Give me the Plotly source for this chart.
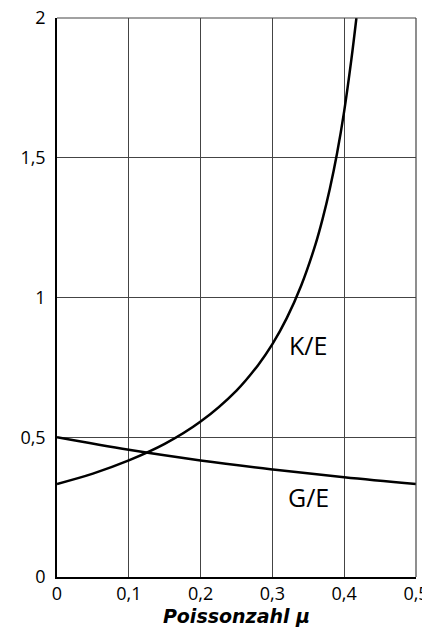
import plotly.graph_objects as go

mu_k = [0, 0.05, 0.1, 0.15, 0.2, 0.25, 0.28, 0.3, 0.32, 0.34, 0.36, 0.37, 0.38, 0.39, 0.4, 0.41, 0.417]
k_e = [0.333, 0.370, 0.417, 0.476, 0.556, 0.667, 0.758, 0.833, 0.926, 1.042, 1.190, 1.282, 1.389, 1.515, 1.667, 1.852, 2.0]
mu_g = [0, 0.1, 0.2, 0.3, 0.4, 0.5]
g_e = [0.5, 0.455, 0.417, 0.385, 0.357, 0.333]
x_ticks = [0, 0.1, 0.2, 0.3, 0.4, 0.5]
x_labels = ["0", "0,1", "0,2", "0,3", "0,4", "0,5"]
y_ticks = [0, 0.5, 1, 1.5, 2]
y_labels = ["0", "0,5", "1", "1,5", "2"]

fig = go.Figure()
fig.add_trace(go.Scatter(x=mu_k, y=k_e, mode="lines", line=dict(color="black", width=2.5, shape="spline"), showlegend=False))
fig.add_trace(go.Scatter(x=mu_g, y=g_e, mode="lines", line=dict(color="black", width=2.5, shape="spline"), showlegend=False))

fig.add_annotation(x=0.35, y=0.83, text="K/E", showarrow=False, font=dict(family="Open Sans", size=25, color="black"))
fig.add_annotation(x=0.35, y=0.287, text="G/E", showarrow=False, font=dict(family="Open Sans", size=25, color="black"))

# frame lines at top and right edge of the plot area
fig.add_shape(type="line", xref="x domain", yref="y domain", x0=0, x1=1, y0=1, y1=1, line=dict(color="#444", width=1.2))
fig.add_shape(type="line", xref="x domain", yref="y domain", x0=1, x1=1, y0=0, y1=1, line=dict(color="#444", width=1.2))

fig.update_layout(
    width=422, height=625,
    margin=dict(l=49, r=14, t=10, b=56, autoexpand=False),
    paper_bgcolor="white", plot_bgcolor="white",
    font=dict(family="Open Sans", size=18, color="black"),
    xaxis=dict(range=[0, 0.5], tickvals=x_ticks, ticktext=x_labels, showgrid=True, gridcolor="#444", gridwidth=1,
               showline=True, linecolor="black", linewidth=1.5, zeroline=False, ticks="", automargin=False,
               ticklabeloverflow="allow",
               title=dict(text="<b><i>Poissonzahl μ</i></b>", font=dict(family="DejaVu Sans", size=19), standoff=0)),
    yaxis=dict(range=[0, 2], tickvals=y_ticks, ticktext=y_labels, showgrid=True, gridcolor="#444", gridwidth=1,
               showline=True, linecolor="black", linewidth=1.5, zeroline=False, ticks="", ticklabelstandoff=6,
               automargin=False, ticklabeloverflow="allow"),
)
fig.write_html("out.html")
